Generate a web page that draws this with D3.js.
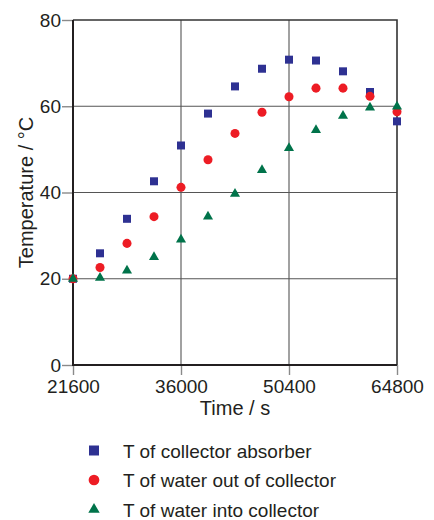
<!DOCTYPE html>
<html lang="en">
<head>
  <meta charset="utf-8" />
  <title>Collector temperatures</title>
  <style>
    body { margin: 0; background: #fff; }
    svg text { font-family: "Liberation Sans", Arial, sans-serif; fill: #231f20; }
  </style>
</head>
<body>
<div id="chart"></div>
<script src="https://d3js.org/d3.v7.min.js"></script>
<script>
  // time (s) every hour from 06:00 to 18:00
  const times = [21600, 25200, 28800, 32400, 36000, 39600, 43200, 46800, 50400, 54000, 57600, 61200, 64800];
  const absorber = [20, 25.9, 33.9, 42.6, 50.9, 58.3, 64.6, 68.7, 70.8, 70.6, 68.1, 63.3, 56.5];
  const waterOut = [20, 22.6, 28.2, 34.4, 41.2, 47.6, 53.7, 58.6, 62.2, 64.2, 64.2, 62.3, 58.7];
  const waterIn  = [20, 20.2, 21.9, 25.0, 29.1, 34.4, 39.7, 45.2, 50.3, 54.5, 57.8, 59.7, 59.9];
  const xTicks = [21600, 36000, 50400, 64800];
  const yTicks = [0, 20, 40, 60, 80];
  const seriesNames = ["T of collector absorber", "T of water out of collector", "T of water into collector"];

  const W = 434, H = 520;
  const m = { left: 73, right: 37, top: 20, bottom: 155 };

  const svg = d3.select("#chart").append("svg").attr("width", W).attr("height", H);

  const x = d3.scaleLinear().domain([21600, 64800]).range([m.left, W - m.right]);
  const y = d3.scaleLinear().domain([0, 80]).range([H - m.bottom, m.top]);

  // grid
  svg.append("g").selectAll("line").data(xTicks.slice(1, -1)).join("line")
    .attr("x1", d => x(d)).attr("x2", d => x(d))
    .attr("y1", y(80)).attr("y2", y(0))
    .attr("stroke", "#8a8a8a").attr("stroke-width", 1.6);
  svg.append("g").selectAll("line").data(yTicks.slice(1, -1)).join("line")
    .attr("x1", x(21600)).attr("x2", x(64800))
    .attr("y1", d => y(d)).attr("y2", d => y(d))
    .attr("stroke", "#555").attr("stroke-width", 1.2);

  // axes
  const xAxis = svg.append("g").attr("transform", `translate(0,${y(0)})`)
    .call(d3.axisBottom(x).tickValues(xTicks).tickSize(10).tickPadding(2).tickFormat(d3.format("d")));
  const yAxis = svg.append("g").attr("transform", `translate(${x(21600)},0)`)
    .call(d3.axisLeft(y).tickValues(yTicks).tickSize(11).tickPadding(1));
  [xAxis, yAxis].forEach(a => {
    a.select(".domain").remove();
    a.selectAll(".tick line").attr("stroke", "#8a8a8a").attr("stroke-width", 1.4);
    a.selectAll(".tick text").attr("font-size", 19).attr("fill", "#231f20");
  });
  xAxis.selectAll(".tick text").attr("dy", "0.84em");

  // frame
  svg.append("path")
    .attr("d", `M${x(21600)},${y(80)}H${x(64800)}V${y(0)}`)
    .attr("fill", "none").attr("stroke", "#333").attr("stroke-width", 1.6);
  svg.append("path")
    .attr("d", `M${x(21600)},${y(80)}V${y(0)}H${x(64800)}`)
    .attr("fill", "none").attr("stroke", "#231f20").attr("stroke-width", 2);

  const series = [
    { name: seriesNames[0], values: absorber, color: "#2e3192", shape: d3.symbolSquare, size: 64, legSize: 100 },
    { name: seriesNames[1], values: waterOut, color: "#ed1c24", shape: d3.symbolCircle, size: 64, legSize: 90 },
    { name: seriesNames[2], values: waterIn,  color: "#00734a", shape: d3.symbolTriangle, size: 44, legSize: 56 }
  ];

  series.forEach(s => {
    svg.append("g").selectAll("path").data(times).join("path")
      .attr("transform", (t, i) => `translate(${x(t)},${y(s.values[i])})`)
      .attr("d", d3.symbol().type(s.shape).size(s.size))
      .attr("fill", s.color);
  });

  // axis titles
  svg.append("text")
    .attr("x", (x(21600) + x(64800)) / 2).attr("y", 415)
    .attr("text-anchor", "middle").attr("font-size", 20)
    .text("Time / s");
  svg.append("text")
    .attr("transform", `translate(33,${(y(0) + y(80)) / 2}) rotate(-90)`)
    .attr("text-anchor", "middle").attr("font-size", 20)
    .text("Temperature / °C");

  // legend
  const legend = svg.append("g").attr("transform", "translate(94,450.5)");
  series.forEach((s, i) => {
    const row = legend.append("g").attr("transform", `translate(0,${i * 29.5})`);
    row.append("path").attr("d", d3.symbol().type(s.shape).size(s.legSize)).attr("fill", s.color);
    row.append("text").attr("x", 29).attr("y", 7).attr("font-size", 19).text(s.name);
  });
</script>
</body>
</html>
